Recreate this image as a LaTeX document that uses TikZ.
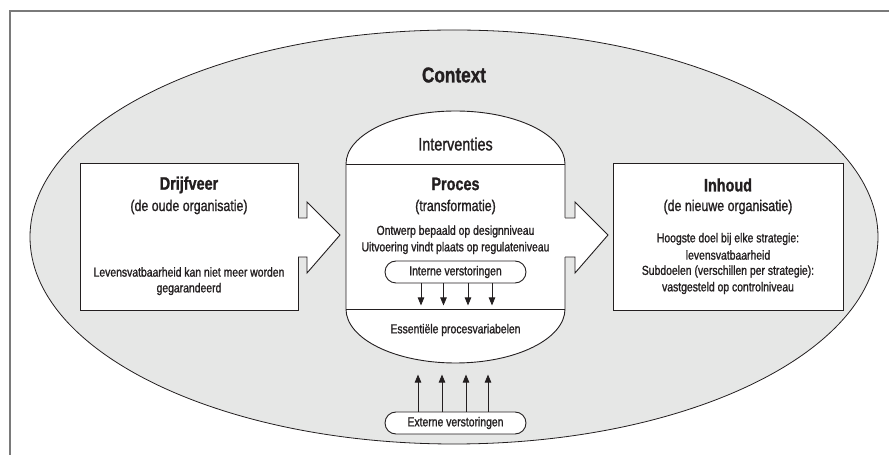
\documentclass[tikz,border=0pt]{standalone}
\usepackage{fontspec}
\setmainfont{Liberation Sans}[FakeStretch=0.8, FakeBold=1.2]
\usetikzlibrary{arrows.meta}
\definecolor{ctxgray}{HTML}{E6E7E6}
\definecolor{ink}{HTML}{231F20}
\definecolor{framegray}{HTML}{7A7A7A}
\begin{document}
\begin{tikzpicture}[x=1pt,y=1pt,
  every node/.style={text=ink, inner sep=0pt},
  body/.style={font=\fontsize{13}{15}\selectfont},
  sub/.style={font=\fontsize{15.5}{18}\selectfont},
  head/.style={font=\bfseries\fontsize{18}{20}\selectfont},
  boxst/.style={draw=ink, fill=white, line width=0.9pt},
  pill/.style={draw=ink, fill=white, line width=0.9pt, rounded corners=11pt,
    minimum width=141pt, minimum height=22pt, font=\fontsize{13}{15}\selectfont},
  arr/.style={draw=ink, line width=0.8pt, -{Triangle[length=8pt,width=6.5pt]}}
]
\useasboundingbox (0,0) rectangle (889,455);
% frame
\draw[framegray, line width=1.4pt] (10,0) -- (10,444) -- (889,444);
% context ellipse
\coordinate (ctx) at (454,218);
\draw[fill=ctxgray, draw=ink, line width=0.8pt] (ctx) ellipse[x radius=424, y radius=207];
\node[font=\bfseries\fontsize{21.5}{24}\selectfont] (ctxlbl) at (454,380) {Context};

% left box
\node[boxst, minimum width=218pt, minimum height=147pt] (drijf) at (189,218.5) {};
\node[head] (drijfT) at (189,270) {Drijfveer};
\node[sub] (drijfS) at (189,248) {(de oude organisatie)};
\node[body] (drijfA) at (189,183) {Levensvatbaarheid kan niet meer worden};
\node[body] (drijfB) at (189,166) {gegarandeerd};

% right box
\node[boxst, minimum width=230pt, minimum height=147pt] (inhoud) at (728,218.5) {};
\node[head] (inhoudT) at (728,270) {Inhoud};
\node[sub] (inhoudS) at (728,248) {(de nieuwe organisatie)};
\node[body] (inhoudA) at (728,216) {Hoogste doel bij elke strategie:};
\node[body] (inhoudB) at (728,200) {levensvatbaarheid};
\node[body] (inhoudC) at (728,183.5) {Subdoelen (verschillen per strategie):};
\node[body] (inhoudD) at (728,167) {vastgesteld op controlniveau};

% center shape
\path[boxst] (346,146) -- (346,291)
  arc[start angle=180, end angle=0, x radius=109.5, y radius=53]
  -- (565,146)
  arc[start angle=0, end angle=-180, x radius=109.5, y radius=54] -- cycle;
\draw[ink, line width=0.9pt] (346,291) -- (565,291);
\draw[ink, line width=0.9pt] (346,146) -- (565,146);

% left block arrow
\fill[white] (297,237) -- (307,237) -- (307,253) -- (340,220) -- (307,182) -- (307,198) -- (297,198) -- cycle;
\draw[ink, line width=0.9pt, line join=miter] (298,237) -- (307,237) -- (307,253) -- (340,220) -- (307,182) -- (307,198) -- (298,198);
% right block arrow
\fill[white] (564,237) -- (575,237) -- (575,253) -- (608,220) -- (575,182) -- (575,198) -- (564,198) -- cycle;
\draw[ink, line width=0.9pt, line join=miter] (565,237) -- (575,237) -- (575,253) -- (608,220) -- (575,182) -- (575,198) -- (565,198);

% center texts
\node[font=\fontsize{18}{20}\selectfont] (interv) at (455.5,311) {Interventies};
\node[head] (proces) at (455.5,271) {Proces};
\node[sub] (procesS) at (455.5,248) {(transformatie)};
\node[body] (procA) at (455.5,223.5) {Ontwerp bepaald op designniveau};
\node[body] (procB) at (455.5,207) {Uitvoering vindt plaats op regulateniveau};
\node[pill] (ip) at (455.5,183) {Interne verstoringen};
\foreach \dx in {-34.5,-12,12.5,36.5}
  \draw[arr] ([xshift=\dx pt]ip.south) -- ++(0,-22);
\node[body] (ess) at (455.5,125) {Essentiële procesvariabelen};

% external
\node[pill] (ep) at (455.5,32) {Externe verstoringen};
\foreach \dx in {-37.5,-13.5,10.5,32.5}
  \draw[arr] ([xshift=\dx pt]ep.north) -- ++(0,37);
\end{tikzpicture}
\end{document}
